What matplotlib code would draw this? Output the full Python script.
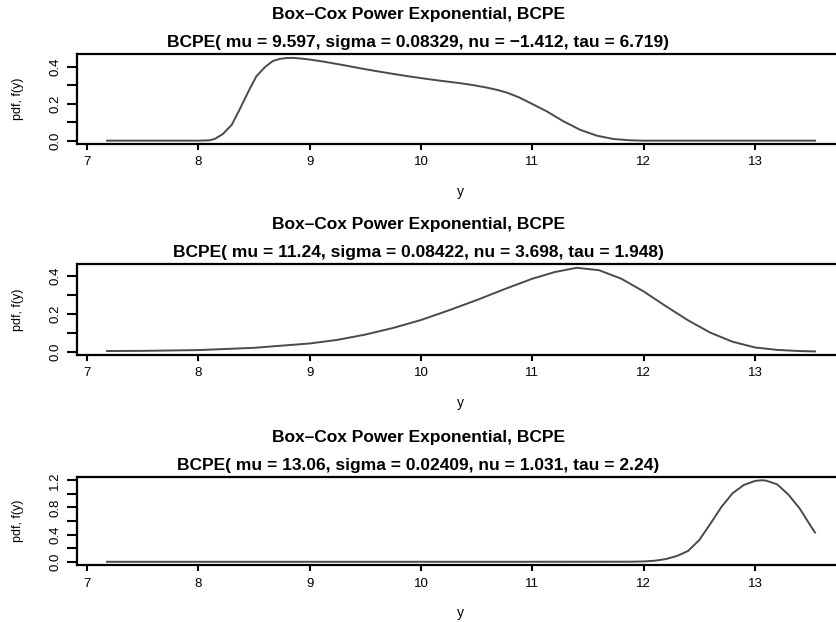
import matplotlib
matplotlib.use('Agg')
import matplotlib.pyplot as plt

plt.rcParams['font.family'] = ['Liberation Sans', 'DejaVu Sans']

main_title = 'Box\u2013Cox Power Exponential, BCPE'
sub_titles = [
    'BCPE( mu = 9.597, sigma = 0.08329, nu = \u22121.412, tau = 6.719)',
    'BCPE( mu = 11.24, sigma = 0.08422, nu = 3.698, tau = 1.948)',
    'BCPE( mu = 13.06, sigma = 0.02409, nu = 1.031, tau = 2.24)',
]

# values
x1 = [7.18, 7.5, 7.8, 8.0, 8.1, 8.15, 8.22, 8.30, 8.37, 8.45, 8.52, 8.60, 8.67,
      8.73, 8.79, 8.85, 8.91, 9.0, 9.12, 9.3, 9.45, 9.6, 9.75, 9.9, 10.05, 10.2,
      10.35, 10.47, 10.59, 10.68, 10.77, 10.88, 10.98, 11.13, 11.28, 11.43, 11.58,
      11.73, 11.88, 12.0, 12.5, 13.0, 13.54]
y1 = [0, 0, 0, 0, 0.002, 0.01, 0.036, 0.086, 0.168, 0.267, 0.348, 0.400, 0.432,
      0.443, 0.448, 0.449, 0.446, 0.440, 0.429, 0.410, 0.393, 0.377, 0.362, 0.348,
      0.335, 0.323, 0.312, 0.301, 0.288, 0.276, 0.261, 0.235, 0.205, 0.159, 0.105,
      0.059, 0.027, 0.009, 0.002, 0, 0, 0, 0]

x2 = [7.18, 7.5, 8.0, 8.5, 9.0, 9.25, 9.5, 9.75, 10.0, 10.25, 10.5, 10.75, 11.0,
      11.2, 11.4, 11.6, 11.8, 12.0, 12.2, 12.4, 12.6, 12.8, 13.0, 13.2, 13.4, 13.54]
y2 = [0.003, 0.004, 0.008, 0.02, 0.043, 0.062, 0.09, 0.125, 0.167, 0.218, 0.272,
      0.33, 0.385, 0.42, 0.443, 0.43, 0.385, 0.318, 0.24, 0.165, 0.10, 0.052,
      0.022, 0.009, 0.003, 0.001]

x3 = [7.18, 8, 9, 10, 11, 11.9, 12.0, 12.1, 12.2, 12.3, 12.4, 12.5, 12.6, 12.7,
      12.8, 12.9, 13.0, 13.06, 13.1, 13.2, 13.3, 13.4, 13.5, 13.54]
y3 = [0, 0, 0, 0, 0, 0.001, 0.005, 0.015, 0.04, 0.085, 0.16, 0.32, 0.56, 0.81,
      1.01, 1.13, 1.19, 1.20, 1.195, 1.14, 0.99, 0.79, 0.53, 0.43]

y_ticks = [[0, 0.1, 0.2, 0.3, 0.4],
           [0, 0.1, 0.2, 0.3, 0.4],
           [0, 0.2, 0.4, 0.6, 0.8, 1.0, 1.2]]
y_ticklabels = [['0.0', '', '0.2', '', '0.4'],
                ['0.0', '', '0.2', '', '0.4'],
                ['0.0', '', '0.4', '', '0.8', '', '1.2']]
y_limits = [(-0.018, 0.470), (-0.0178, 0.463), (-0.048, 1.248)]
x_ticks = [7, 8, 9, 10, 11, 12, 13]

series = [(x1, y1), (x2, y2), (x3, y3)]
# axes rectangles in figure fractions (left, bottom, width, height)
rects = [[0.092, 0.7685, 0.915, 0.1447],
         [0.092, 0.4293, 0.915, 0.1463],
         [0.092, 0.0916, 0.915, 0.1415]]

fig = plt.figure(figsize=(8.37, 6.22), dpi=100)

for i in range(3):
    ax = fig.add_axes(rects[i])
    xs, ys = series[i]
    ax.plot(xs, ys, color='#4a4a4a', lw=1.4)
    ax.set_xlim(6.91, 13.79)
    ax.set_ylim(*y_limits[i])
    ax.set_xticks(x_ticks)
    ax.set_xticklabels([str(t) for t in x_ticks])
    ax.set_yticks(y_ticks[i])
    ax.set_yticklabels(y_ticklabels[i], rotation=90, va='center')
    for s in ax.spines.values():
        s.set_linewidth(1.6)
    ax.tick_params(axis='x', direction='out', length=4.5, width=1.5, pad=4.5, labelsize=9.5)
    ax.tick_params(axis='y', direction='out', length=7.5, width=1.5, pad=4, labelsize=9.5)
    ax.set_xlabel('y', fontsize=10, labelpad=12)
    ax.set_ylabel('pdf, f(y)', fontsize=9, labelpad=18)
    ax.annotate(sub_titles[i], xy=(0.5, 1), xycoords=('figure fraction', 'axes fraction'),
                xytext=(0, 8.5), textcoords='offset points', ha='center', va='center',
                fontsize=12.5, fontweight='bold')
    ax.annotate(main_title, xy=(0.5, 1), xycoords=('figure fraction', 'axes fraction'),
                xytext=(0, 28.5), textcoords='offset points', ha='center', va='center',
                fontsize=12.5, fontweight='bold')

fig.savefig('out.png', dpi=100)
